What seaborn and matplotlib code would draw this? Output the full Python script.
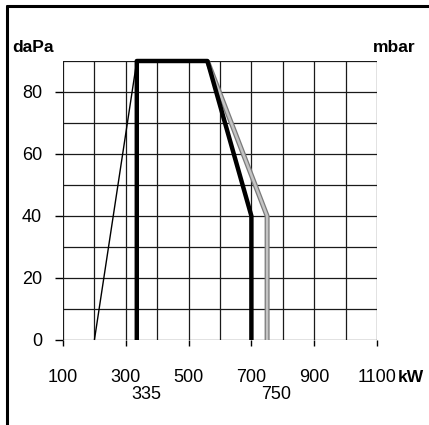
import matplotlib
matplotlib.use("Agg")
import matplotlib.pyplot as plt
import seaborn as sns
import pandas as pd
from matplotlib.lines import Line2D

# working range curves (kW vs daPa)
thin_kw = [200, 335]
thin_pa = [0, 90]
black_kw = [335, 335, 560, 700, 700]
black_pa = [0, 90, 90, 40, 0]
gray_kw = [560, 750, 750]
gray_pa = [90, 40, 0]

x_ticks = [100, 300, 500, 700, 900, 1100]
y_ticks = [0, 20, 40, 60, 80]
extra_labels = [335, 750]

sns.set_style("white")
plt.rcParams["font.family"] = ["Liberation Sans", "DejaVu Sans"]
plt.rcParams["text.color"] = "black"
plt.rcParams["xtick.color"] = "black"
plt.rcParams["ytick.color"] = "black"

fig = plt.figure(figsize=(4.29, 4.25), dpi=100)
ax = fig.add_axes([63 / 429, 85 / 425, 314 / 429, 279 / 425])

# grid every 100 kW / 10 daPa
for gx in range(100, 1101, 100):
    ax.axvline(gx, color="#1a1a1a", lw=0.9, zorder=1)
for gy in range(0, 91, 10):
    ax.axhline(gy, color="#1a1a1a", lw=0.9, zorder=1)

df_thin = pd.DataFrame({"kW": thin_kw, "daPa": thin_pa})
df_black = pd.DataFrame({"kW": black_kw, "daPa": black_pa})
df_gray = pd.DataFrame({"kW": gray_kw, "daPa": gray_pa})

opts = dict(x="kW", y="daPa", sort=False, estimator=None, ax=ax, clip_on=False,
            solid_capstyle="butt")
sns.lineplot(data=df_thin, color="black", lw=1, zorder=3, **opts)
sns.lineplot(data=df_gray, color="#7a7a7a", lw=3.6, zorder=3, **opts)
sns.lineplot(data=df_gray, color="#c4c4c4", lw=1.8, zorder=3, **opts)
sns.lineplot(data=df_black, color="black", lw=3.2, zorder=4, **opts)

ax.set_xlim(100, 1100)
ax.set_ylim(0, 90)
ax.set_xticks(x_ticks)
ax.set_yticks(y_ticks)
ax.set_xticklabels([str(v) for v in x_ticks], fontsize=13)
ax.set_yticklabels([str(v) for v in y_ticks], fontsize=13)
ax.tick_params(axis="x", bottom=True, direction="out", length=4, width=1, pad=17)
ax.tick_params(axis="y", left=True, direction="out", length=6, width=1, pad=9)
ax.set_xlabel("")
ax.set_ylabel("")
for s in ax.spines.values():
    s.set_visible(False)

for v in extra_labels:
    ax.text(v + 30, -0.197, str(v), transform=ax.get_xaxis_transform(),
            ha="center", va="center", fontsize=13)

fig.text(12 / 429, 1 - 48 / 425, "daPa", fontsize=12.5, fontweight="bold", va="center", ha="left")
fig.text(415 / 429, 1 - 48 / 425, "mbar", fontsize=12.5, fontweight="bold", va="center", ha="right")
fig.text(398 / 429, 1 - 378 / 425, "kW", fontsize=12.5, fontweight="bold", va="center", ha="left")

# outer frame: top and left edges
fig.add_artist(Line2D([7 / 429, 1.0], [1 - 6 / 425, 1 - 6 / 425], color="black", lw=2.2,
                      transform=fig.transFigure))
fig.add_artist(Line2D([7 / 429, 7 / 429], [0, 1 - 6 / 425], color="black", lw=2.2,
                      transform=fig.transFigure))

fig.savefig("out.png", dpi=100)
